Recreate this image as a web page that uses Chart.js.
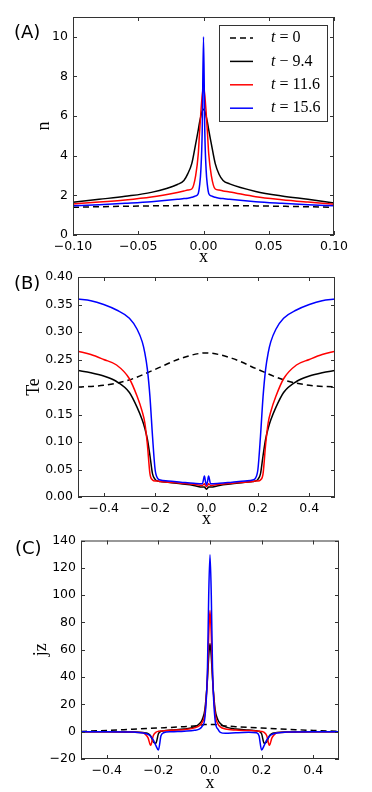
<!DOCTYPE html>
<html>
<head>
<meta charset="utf-8">
<script src="https://cdn.jsdelivr.net/npm/chart.js@4.4.0/dist/chart.umd.min.js"></script>
<style>
  html, body { margin: 0; padding: 0; background: #fff; }
  #wrap { position: relative; width: 372px; height: 792px; overflow: hidden; }
  canvas { position: absolute; left: 0; }
  .tag { position: absolute; font-family: 'DejaVu Sans', sans-serif; font-size: 18px; line-height: 18px; color: #000; }
</style>
</head>
<body>
<div id="wrap">
  <canvas id="chartA" width="372" height="264" style="top:0px"></canvas>
  <canvas id="chartB" width="372" height="264" style="top:264px"></canvas>
  <canvas id="chartC" width="372" height="264" style="top:528px"></canvas>
  <div class="tag" style="left:14px;top:23px">(A)</div>
  <div class="tag" style="left:14px;top:274px">(B)</div>
  <div class="tag" style="left:15px;top:539px">(C)</div>
</div>
<script>
// legend / series
const seriesLabels = ['t = 0', 't \u2212 9.4', 't = 11.6', 't = 15.6'];
const seriesColors = ['#000000', '#000000', '#ff0000', '#0000ff'];

// (A) density n
const xTicksA = [-0.1, -0.05, 0, 0.05, 0.1];
const yTicksA = [0, 2, 4, 6, 8, 10];
const xA0 = [-0.1, -0.05, 0, 0.05, 0.1];
const nA0 = [1.40, 1.46, 1.49, 1.46, 1.40];
const xA = [-0.1, -0.08, -0.06, -0.04, -0.02, -0.015, -0.012, -0.009, -0.006, -0.004, -0.003, -0.002, -0.001, 0,
            0.001, 0.002, 0.003, 0.004, 0.006, 0.009, 0.012, 0.015, 0.02, 0.04, 0.06, 0.08, 0.1];
const nA94 = [1.65, 1.8, 1.95, 2.15, 2.55, 2.75, 3.1, 3.6, 4.6, 5.3, 5.7, 6.0, 6.25, 6.35,
              6.25, 6.0, 5.7, 5.3, 4.6, 3.6, 3.05, 2.75, 2.58, 2.2, 1.97, 1.8, 1.62];
const nA116 = [1.57, 1.66, 1.77, 1.92, 2.15, 2.22, 2.27, 2.32, 3.0, 4.1, 5.2, 6.2, 7.05, 7.45,
               7.05, 6.2, 5.2, 4.1, 3.0, 2.32, 2.27, 2.22, 2.17, 1.93, 1.78, 1.66, 1.55];
const nA156 = [1.47, 1.53, 1.6, 1.68, 1.8, 1.84, 1.86, 1.9, 1.97, 2.1, 2.5, 3.3, 5.2, 10.0,
               5.2, 3.3, 2.5, 2.1, 1.97, 1.9, 1.86, 1.84, 1.8, 1.68, 1.6, 1.53, 1.47];

// (B) electron temperature Te
const xTicksB = [-0.4, -0.2, 0, 0.2, 0.4];
const yTicksB = [0, 0.05, 0.1, 0.15, 0.2, 0.25, 0.3, 0.35, 0.4];
const xB0 = [-0.5, -0.4, -0.3, -0.2, -0.1, 0, 0.1, 0.2, 0.3, 0.4, 0.5];
const teB0 = [0.200, 0.203, 0.213, 0.232, 0.252, 0.262, 0.252, 0.232, 0.213, 0.203, 0.200];
const xB = [-0.5, -0.45, -0.4, -0.35, -0.3, -0.27, -0.25, -0.24, -0.23, -0.22, -0.21, -0.2, -0.19, -0.18, -0.15, -0.1, -0.05, -0.016, -0.008, -0.004, 0,
            0.004, 0.008, 0.016, 0.05, 0.1, 0.15, 0.18, 0.19, 0.2, 0.21, 0.22, 0.23, 0.24, 0.25, 0.27, 0.3, 0.35, 0.4, 0.45, 0.5];
const teB94 = [0.230, 0.226, 0.220, 0.210, 0.190, 0.163, 0.140, 0.125, 0.105, 0.075, 0.042, 0.032, 0.029, 0.028, 0.027, 0.024, 0.021, 0.018, 0.018, 0.016, 0.014,
               0.016, 0.018, 0.018, 0.021, 0.024, 0.027, 0.028, 0.029, 0.032, 0.042, 0.075, 0.105, 0.125, 0.140, 0.163, 0.190, 0.210, 0.220, 0.226, 0.230];
const teB116 = [0.265, 0.259, 0.250, 0.240, 0.215, 0.183, 0.155, 0.135, 0.095, 0.042, 0.031, 0.029, 0.029, 0.028, 0.027, 0.025, 0.023, 0.021, 0.024, 0.021, 0.019,
                0.021, 0.024, 0.021, 0.023, 0.025, 0.027, 0.028, 0.029, 0.029, 0.031, 0.042, 0.095, 0.135, 0.155, 0.183, 0.215, 0.240, 0.250, 0.259, 0.265];
const teB156 = [0.360, 0.357, 0.350, 0.340, 0.325, 0.305, 0.282, 0.262, 0.232, 0.182, 0.110, 0.050, 0.034, 0.031, 0.029, 0.027, 0.025, 0.024, 0.038, 0.028, 0.022,
                0.028, 0.038, 0.024, 0.025, 0.027, 0.029, 0.031, 0.034, 0.050, 0.110, 0.182, 0.232, 0.262, 0.282, 0.305, 0.325, 0.340, 0.350, 0.357, 0.360];

// (C) current density jz
const xTicksC = [-0.4, -0.2, 0, 0.2, 0.4];
const yTicksC = [-20, 0, 20, 40, 60, 80, 100, 120, 140];
const xC0 = [-0.5, -0.4, -0.3, -0.2, -0.1, -0.05, -0.02, 0, 0.02, 0.05, 0.1, 0.2, 0.3, 0.4, 0.5];
const jzC0 = [0.2, 0.9, 1.8, 2.7, 3.7, 4.4, 5.2, 5.3, 5.2, 4.4, 3.7, 2.7, 1.8, 0.9, 0.2];
const xC = [-0.5, -0.4, -0.3, -0.26, -0.25, -0.24, -0.23, -0.22, -0.21, -0.2, -0.19, -0.18, -0.15, -0.1, -0.06, -0.04, -0.03, -0.02, -0.01, -0.005, 0,
            0.005, 0.01, 0.02, 0.03, 0.04, 0.06, 0.1, 0.15, 0.18, 0.19, 0.2, 0.21, 0.22, 0.23, 0.24, 0.25, 0.26, 0.3, 0.4, 0.5];
const jzC94 = [0, 0, -0.2, -0.5, -0.9, -1.5, -3, -7.5, -8.5, -1.5, 0.3, 0.6, 1.2, 2, 3.5, 6, 9, 16, 38, 55, 64.5,
               55, 38, 16, 9, 6, 3.5, 2, 1.2, 0.6, 0.3, -1.5, -8.5, -7.5, -3, -1.5, -0.9, -0.5, -0.2, 0, 0];
const jzC116 = [0, 0, -0.3, -0.8, -2, -4.5, -10, -3, -0.5, 0.3, 0.5, 0.6, 1, 1.5, 2.8, 4.5, 7, 13, 40, 70, 88.8,
                70, 40, 13, 6, 3.5, 2, 1.2, 0.8, 0.5, 0.4, 0.2, -0.5, -3, -10, -4.5, -2, -0.8, -0.3, 0, 0];
const jzC156 = [0, 0, -0.3, -1, -1.4, -2, -3.5, -6, -10, -13.4, -3, -0.8, 0, 0.4, 1, 2, 4, 10, 45, 100, 129.5,
                100, 45, 8, 2, -0.5, -1.2, -0.8, -0.5, -0.8, -3, -13.4, -10, -6, -3.5, -2, -1.4, -1, -0.3, 0, 0];

const tickFont = { family: "'DejaVu Sans', sans-serif", size: 12.5 };
const titleFont = { family: "'Liberation Serif', serif", size: 18 };
const minus = s => s.replace('-', '\u2212');

function series(xs, ys, i) {
  return {
    label: seriesLabels[i],
    data: xs.map((x, k) => ({ x: x, y: ys[k] })),
    borderColor: seriesColors[i],
    borderWidth: 1.5,
    borderDash: i === 0 ? [6, 4] : [],
    pointRadius: 0,
    fill: false,
    order: 3 - i,
    cubicInterpolationMode: 'monotone'
  };
}

// box frame with inward ticks on all four sides, like the matplotlib original
const frameTicks = {
  id: 'frameTicks',
  afterDraw(chart) {
    const { ctx, chartArea: a, scales: { x, y } } = chart;
    ctx.save();
    ctx.strokeStyle = '#333';
    ctx.lineWidth = 1;
    ctx.strokeRect(a.left + 0.5, a.top + 0.5, a.right - a.left - 1, a.bottom - a.top - 1);
    ctx.beginPath();
    x.ticks.forEach(t => {
      const px = Math.round(x.getPixelForValue(t.value)) + 0.5;
      ctx.moveTo(px, a.bottom); ctx.lineTo(px, a.bottom - 4);
      ctx.moveTo(px, a.top); ctx.lineTo(px, a.top + 4);
    });
    y.ticks.forEach(t => {
      const py = Math.round(y.getPixelForValue(t.value)) + 0.5;
      ctx.moveTo(a.left, py); ctx.lineTo(a.left + 4, py);
      ctx.moveTo(a.right, py); ctx.lineTo(a.right - 4, py);
    });
    ctx.stroke();
    ctx.restore();
  }
};

// legend box inside the plot (panel A only)
const boxLegend = {
  id: 'boxLegend',
  afterDraw(chart, args, opts) {
    if (!opts.show) return;
    const { ctx, chartArea: a } = chart;
    const right = a.right - 7, top = a.top + 8, w = 108, h = 96, rowH = 23.4;
    const left = right - w;
    ctx.save();
    ctx.fillStyle = '#fff';
    ctx.fillRect(left, top, w, h);
    ctx.strokeStyle = '#333';
    ctx.lineWidth = 1;
    ctx.strokeRect(left + 0.5, top + 0.5, w, h);
    chart.data.datasets.forEach((ds, i) => {
      const cy = top + 13 + i * rowH;
      ctx.beginPath();
      ctx.setLineDash(ds.borderDash);
      ctx.strokeStyle = ds.borderColor;
      ctx.lineWidth = 1.5;
      ctx.moveTo(left + 11, cy); ctx.lineTo(left + 34, cy);
      ctx.stroke();
      ctx.setLineDash([]);
      ctx.fillStyle = '#000';
      ctx.textBaseline = 'middle';
      ctx.font = "italic 16px 'Liberation Serif', serif";
      ctx.fillText(ds.label.charAt(0), left + 52, cy);
      const tw = ctx.measureText(ds.label.charAt(0)).width;
      ctx.font = "16px 'Liberation Serif', serif";
      ctx.fillText(ds.label.slice(1), left + 52 + tw, cy);
    });
    ctx.restore();
  }
};

function makePanel(id, p) {
  new Chart(document.getElementById(id), {
    type: 'line',
    data: { datasets: p.datasets },
    options: {
      responsive: false,
      animation: false,
      devicePixelRatio: 1,
      layout: { padding: p.padding },
      plugins: { legend: { display: false }, tooltip: { enabled: false }, boxLegend: { show: !!p.legend } },
      scales: {
        x: {
          type: 'linear', position: 'bottom', min: p.xMin, max: p.xMax,
          grid: { display: false, drawTicks: false }, border: { display: false },
          afterBuildTicks: s => { s.ticks = p.xTicks.map(v => ({ value: v })); },
          afterFit: s => { s.height = p.xHeight; },
          ticks: { font: tickFont, color: '#000', padding: 4, maxRotation: 0, autoSkip: false,
                   callback: v => minus(v.toFixed(p.xDec)) },
          title: { display: true, text: 'x', font: titleFont, color: '#000', padding: { top: 0, bottom: p.xTitlePad } }
        },
        y: {
          type: 'linear', min: p.yMin, max: p.yMax,
          grid: { display: false, drawTicks: false }, border: { display: false },
          afterBuildTicks: s => { s.ticks = p.yTicks.map(v => ({ value: v })); },
          afterFit: s => { s.width = p.yWidth; },
          ticks: { font: tickFont, color: '#000', padding: 5, autoSkip: false,
                   callback: v => minus(v.toFixed(p.yDec)) },
          title: { display: true, text: p.yTitle, font: titleFont, color: '#000', padding: 0 }
        }
      }
    },
    plugins: [frameTicks, boxLegend]
  });
}

makePanel('chartA', {
  datasets: [series(xA0, nA0, 0), series(xA, nA94, 1), series(xA, nA116, 2), series(xA, nA156, 3)],
  padding: { top: 17, right: 38, left: 33, bottom: 0 },
  xMin: -0.1, xMax: 0.1, yMin: 0, yMax: 11,
  xTicks: xTicksA, yTicks: yTicksA, xDec: 2, yDec: 0,
  xHeight: 29, yWidth: 40, xTitlePad: -4, yTitle: 'n', legend: true
});

makePanel('chartB', {
  datasets: [series(xB0, teB0, 0), series(xB, teB94, 1), series(xB, teB116, 2), series(xB, teB156, 3)],
  padding: { top: 13, right: 37, left: 23, bottom: 0 },
  xMin: -0.5, xMax: 0.5, yMin: 0, yMax: 0.4,
  xTicks: xTicksB, yTicks: yTicksB, xDec: 1, yDec: 2,
  xHeight: 31, yWidth: 55, xTitlePad: -2, yTitle: 'Te', legend: false
});

makePanel('chartC', {
  datasets: [series(xC0, jzC0, 0), series(xC, jzC94, 1), series(xC, jzC116, 2), series(xC, jzC156, 3)],
  padding: { top: 12, right: 33, left: 30, bottom: 0 },
  xMin: -0.5, xMax: 0.5, yMin: -20, yMax: 140,
  xTicks: xTicksC, yTicks: yTicksC, xDec: 1, yDec: 0,
  xHeight: 33, yWidth: 51, xTitlePad: -2, yTitle: 'jz', legend: false
});
</script>
</body>
</html>
